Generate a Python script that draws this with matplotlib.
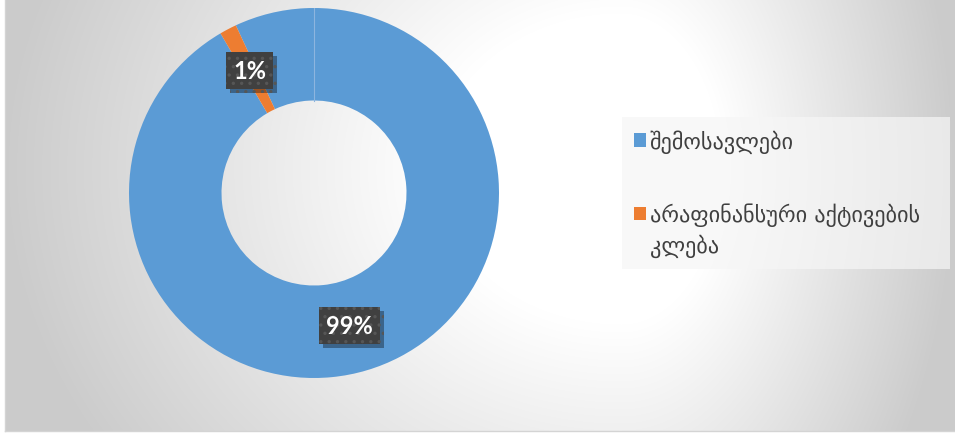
import matplotlib.pyplot as plt
import matplotlib.patheffects as pe
import numpy as np

plt.rcParams['font.family'] = ['DejaVu Sans']
plt.rcParams['hatch.linewidth'] = 1.2

# data
labels = ['შემოსავლები', 'არაფინანსური აქტივების\nკლება']
shares = [98.51, 1.49]
colors = ['#5B9BD5', '#ED7D31']
pct_text = ['%d%%' % round(v) for v in shares]

W, H = 955, 435
fig = plt.figure(figsize=(W / 100, H / 100), dpi=100)

# grey gradient background, as in the Excel chart area
bg = fig.add_axes([0, 0, 1, 1])
yy, xx = np.mgrid[0:H, 0:W]
cx, cy = 620, 170
tx = np.where(xx < cx, (cx - xx) / 620.0, (xx - cx) / 335.0)
ty = (yy - cy) / 260.0 * 0.5
t = np.sqrt(tx ** 2 + ty ** 2)
shade = 1 - (52 / 255.0) * np.clip((t - 0.3) / 0.7, 0, 1)
img = np.dstack([shade] * 3)
img[:, :5] = 1
img[432:, :] = 1
bg.imshow(img, extent=[0, W, H, 0], aspect='auto')
bg.plot([5, 5], [0, 432], color='#d4d4d4', lw=1)
bg.plot([5, W], [432, 432], color='#d4d4d4', lw=1)
bg.set_xlim(0, W)
bg.set_ylim(H, 0)
bg.axis('off')

# doughnut
ax = fig.add_axes([129 / W, (H - 379) / H, 370 / W, 370 / H])
wedges, _ = ax.pie(shares, colors=colors, startangle=115, counterclock=False,
                   radius=1, wedgeprops=dict(width=0.5, linewidth=0))
ax.plot([0, 0], [0.5, 1], color='#8db5df', lw=0.8)
ax.set_xlim(-1, 1)
ax.set_ylim(-1, 1)
ax.set_aspect('equal')
ax.axis('off')

# data labels
w = wedges[1]
mid = np.deg2rad((w.theta1 + w.theta2) / 2)
pos = [(0.19, -0.715), (0.75 * np.cos(mid), 0.75 * np.sin(mid))]
for p, s in zip(pos, pct_text):
    txt = ax.text(p[0], p[1], s, ha='center', va='center', color='white',
                  fontsize=17, fontweight='bold', family=['Lato', 'DejaVu Sans'],
                  bbox=dict(boxstyle='square,pad=0.3', facecolor='#404040',
                            edgecolor='#565656', linewidth=0, hatch='..'))
    txt.get_bbox_patch().set_path_effects(
        [pe.withSimplePatchShadow(offset=(3, -3), shadow_rgbFace='black', alpha=0.35)])

# legend
leg = ax.legend(wedges, labels, loc='upper left',
                bbox_to_anchor=(622 / W, 1 - 118 / H, 328 / W, 0),
                bbox_transform=fig.transFigure, mode='expand',
                fontsize=16, frameon=True, fancybox=False, facecolor='#f6f6f6',
                edgecolor='none', framealpha=0.7, handlelength=0.55,
                handleheight=0.55, handletextpad=0.15, labelspacing=2.2,
                borderpad=0.55, borderaxespad=0)
for t in leg.get_texts():
    t.set_color('#404040')
    t.set_linespacing(1.45)
# Excel keeps the marker level with the first line of a wrapped entry
h = leg.legend_handles[1]
h.set_y(h.get_y() + 11.5)

fig.savefig('out.png', dpi=100)
